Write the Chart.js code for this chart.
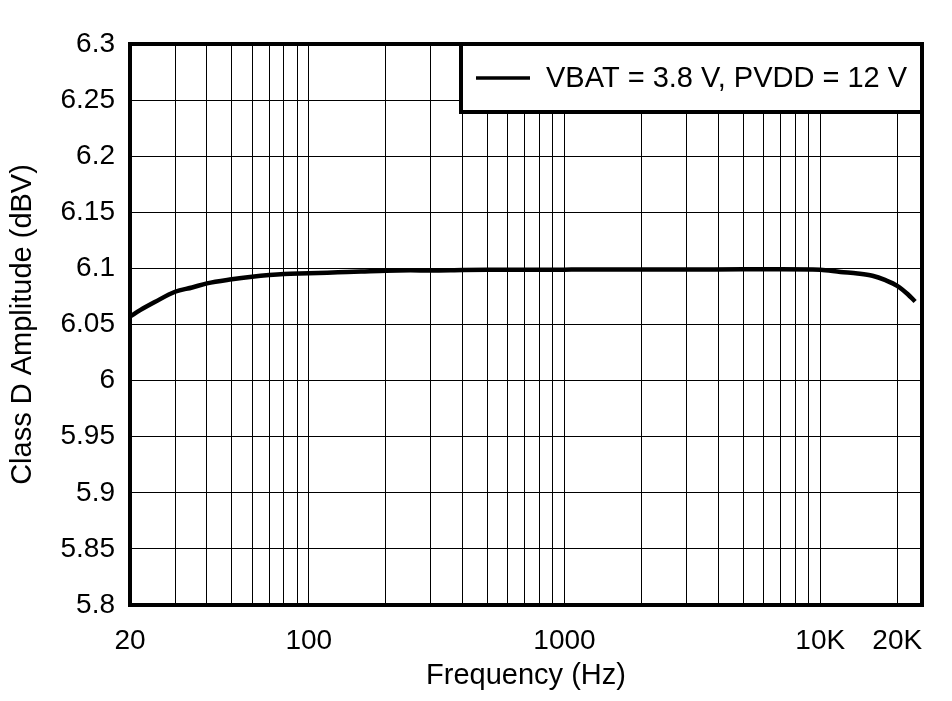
<!DOCTYPE html>
<html>
<head>
<meta charset="utf-8">
<script src="https://cdn.jsdelivr.net/npm/chart.js@4.4.1/dist/chart.umd.min.js"></script>
<style>
  html, body { margin: 0; padding: 0; background: #fff; }
</style>
</head>
<body>
<canvas id="chart" width="952" height="701"></canvas>
<script>
const FREQ_HZ = [
  20, 22, 25, 30, 35, 40, 50, 60, 70, 80, 100, 130, 160, 200, 250, 300,
  400, 500, 700, 1000, 1500, 2000, 3000, 5000, 7000, 10000, 12000, 14000,
  16000, 18000, 20000, 22000, 23500,
];
const AMPLITUDE_DBV = [
  6.057, 6.063, 6.07, 6.0792, 6.083, 6.0867, 6.0903, 6.0926, 6.0941, 6.095,
  6.0956, 6.0965, 6.0972, 6.098, 6.0983, 6.0981, 6.0985, 6.0987, 6.0988,
  6.0989, 6.099, 6.099, 6.099, 6.0992, 6.0992, 6.0988, 6.0968, 6.0955,
  6.0935, 6.0895, 6.0845, 6.077, 6.0705,
];
const SERIES_LABEL = "VBAT = 3.8 V, PVDD = 12 V";

const X_GRID_TICKS = [
  20, 30, 40, 50, 60, 70, 80, 90,
  100, 200, 300, 400, 500, 600, 700, 800, 900,
  1000, 2000, 3000, 4000, 5000, 6000, 7000, 8000, 9000,
  10000, 20000,
];
const X_TICK_LABELS = { 20: "20", 100: "100", 1000: "1000", 10000: "10K", 20000: "20K" };
const X_MIN = 20;
const X_MAX = 25000;
const Y_MIN = 5.8;
const Y_MAX = 6.3;
const Y_STEP = 0.05;

const FONT = "'Liberation Sans', Arial, sans-serif";

// frame + legend box drawn over the plot
const framePlugin = {
  id: "frame",
  afterDatasetsDraw(chart) {
    const { ctx, chartArea: a } = chart;
    ctx.save();

    // legend box in the top right corner
    const boxL = 461, boxT = a.top, boxR = a.right, boxB = 112;
    ctx.fillStyle = "#fff";
    ctx.fillRect(boxL, boxT, boxR - boxL, boxB - boxT);
    ctx.strokeStyle = "#000";
    ctx.lineWidth = 4;
    ctx.strokeRect(boxL, boxT, boxR - boxL, boxB - boxT);

    const midY = (boxT + boxB) / 2;
    ctx.beginPath();
    ctx.lineWidth = 3.5;
    ctx.moveTo(476, midY);
    ctx.lineTo(530, midY);
    ctx.stroke();

    ctx.fillStyle = "#000";
    ctx.font = "29px " + FONT;
    ctx.textBaseline = "middle";
    ctx.textAlign = "left";
    ctx.fillText(chart.data.datasets[0].label, 546, midY + 1);

    // plot frame
    ctx.lineWidth = 4;
    ctx.strokeRect(a.left, a.top, a.right - a.left, a.bottom - a.top);
    ctx.restore();
  },
};

new Chart(document.getElementById("chart"), {
  type: "line",
  data: {
    datasets: [{
      label: SERIES_LABEL,
      data: FREQ_HZ.map((f, i) => ({ x: f, y: AMPLITUDE_DBV[i] })),
      borderColor: "#000",
      borderWidth: 4.5,
      pointRadius: 0,
      cubicInterpolationMode: "monotone",
      fill: false,
    }],
  },
  options: {
    responsive: false,
    animation: false,
    devicePixelRatio: 1,
    layout: { padding: { top: 44, right: 30, left: 0, bottom: 0 } },
    plugins: {
      legend: { display: false },
      tooltip: { enabled: false },
    },
    scales: {
      x: {
        type: "logarithmic",
        min: X_MIN,
        max: X_MAX,
        afterBuildTicks: (scale) => {
          scale.ticks = X_GRID_TICKS.map((v) => ({ value: v }));
        },
        afterFit: (scale) => { scale.height = 96; },
        grid: { color: "#000", lineWidth: 1, drawTicks: false },
        border: { display: false },
        ticks: {
          autoSkip: false,
          maxRotation: 0,
          padding: 19,
          color: "#000",
          font: { family: FONT, size: 28 },
          callback: (v) => X_TICK_LABELS[v] || "",
        },
        title: {
          display: true,
          text: "Frequency (Hz)",
          color: "#000",
          font: { family: FONT, size: 29 },
          padding: { top: 0, bottom: 8 },
        },
      },
      y: {
        type: "linear",
        min: Y_MIN,
        max: Y_MAX,
        afterFit: (scale) => { scale.width = 130; },
        grid: { color: "#000", lineWidth: 1, drawTicks: false },
        border: { display: false },
        ticks: {
          stepSize: Y_STEP,
          padding: 15,
          color: "#000",
          font: { family: FONT, size: 28 },
          callback: (v) => String(+v.toFixed(2)),
        },
        title: {
          display: true,
          text: "Class D Amplitude (dBV)",
          color: "#000",
          font: { family: FONT, size: 29 },
          padding: { top: 6, bottom: 0 },
        },
      },
    },
  },
  plugins: [framePlugin],
});
</script>
</body>
</html>
